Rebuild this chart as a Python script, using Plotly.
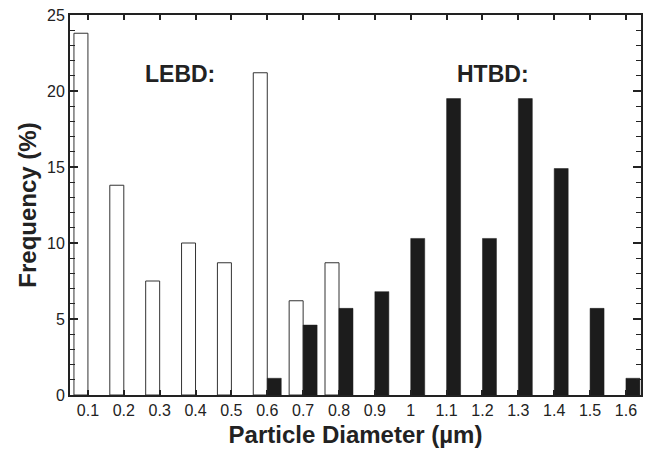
import plotly.graph_objects as go

diameters = [0.1, 0.2, 0.3, 0.4, 0.5, 0.6, 0.7, 0.8, 0.9, 1.0, 1.1, 1.2, 1.3, 1.4, 1.5, 1.6]
tick_labels = ["0.1", "0.2", "0.3", "0.4", "0.5", "0.6", "0.7", "0.8", "0.9", "1",
               "1.1", "1.2", "1.3", "1.4", "1.5", "1.6"]
lebd_freq = [23.8, 13.8, 7.5, 10.0, 8.7, 21.2, 6.2, 8.7, 0, 0, 0, 0, 0, 0, 0, 0]
htbd_freq = [0, 0, 0, 0, 0, 1.1, 4.6, 5.7, 6.8, 10.3, 19.5, 10.3, 19.5, 14.9, 5.7, 1.1]

FONT = "Liberation Sans, Arial, sans-serif"
BW = 0.039

lebd_line = [1 if v > 0 else 0 for v in lebd_freq]
htbd_line = [0.5 if v > 0 else 0 for v in htbd_freq]

fig = go.Figure()
fig.add_trace(go.Bar(
    x=diameters, y=lebd_freq, name="LEBD",
    width=BW, offset=-BW,
    marker=dict(color="white", line=dict(color="#333333", width=lebd_line)),
))
fig.add_trace(go.Bar(
    x=diameters, y=htbd_freq, name="HTBD",
    width=BW, offset=0,
    marker=dict(color="#1c1c1c", line=dict(color="#1c1c1c", width=htbd_line)),
))

fig.update_layout(
    width=646, height=450,
    margin=dict(l=70, r=3, t=15, b=55),
    paper_bgcolor="white", plot_bgcolor="white",
    barmode="overlay",
    showlegend=False,
    font=dict(family=FONT, color="#222222", size=16),
    xaxis=dict(
        range=[0.05, 1.642],
        tickvals=diameters, ticktext=tick_labels,
        ticks="inside", ticklen=5, tickwidth=1.5, tickcolor="#222",
        showline=True, linewidth=2, linecolor="#222", mirror="ticks",
        showgrid=False, zeroline=False,
        tickfont=dict(size=16),
        title=dict(text="<b>Particle Diameter (\u00b5m)</b>", font=dict(size=24), standoff=8),
    ),
    yaxis=dict(
        range=[0, 25],
        tickvals=[0, 5, 10, 15, 20, 25],
        ticks="inside", ticklen=8, tickwidth=1.5, tickcolor="#222",
        minor=dict(dtick=1, ticks="inside", ticklen=5, tickwidth=1, tickcolor="#222"),
        showline=True, linewidth=2, linecolor="#222", mirror="ticks",
        showgrid=False, zeroline=False,
        tickfont=dict(size=16),
        title=dict(text="<b>Frequency (%)</b>", font=dict(size=24), standoff=4),
    ),
    annotations=[
        dict(x=0.358, y=21.1, xref="x", yref="y", text="<b>LEBD:</b>", showarrow=False,
             font=dict(size=23, family=FONT, color="#222")),
        dict(x=1.23, y=21.1, xref="x", yref="y", text="<b>HTBD:</b>", showarrow=False,
             font=dict(size=23, family=FONT, color="#222")),
    ],
)

fig.write_html("out.html")
